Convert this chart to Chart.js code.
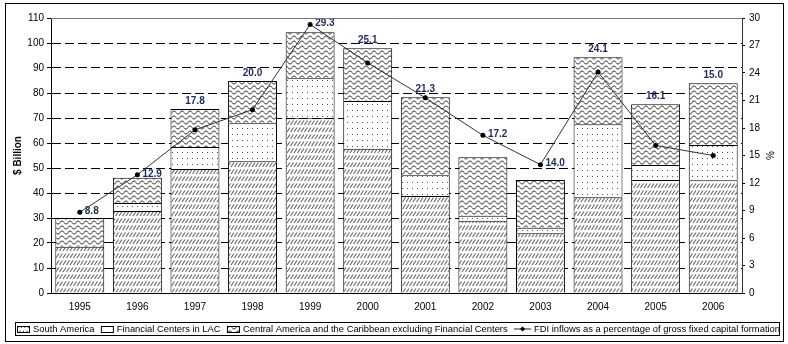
<!DOCTYPE html>
<html>
<head>
<meta charset="utf-8">
<script src="https://cdn.jsdelivr.net/npm/chart.js@4.4.1/dist/chart.umd.min.js"></script>
<style>
  body { margin: 0; background: #fff; }
  #wrap { width: 788px; height: 344px; }
</style>
</head>
<body>
<div id="wrap"><canvas id="fdiChart" width="788" height="344"></canvas></div>
<script>
// data
var years = ['1995', '1996', '1997', '1998', '1999', '2000', '2001', '2002', '2003', '2004', '2005', '2006'];
var southAmerica     = [18.5, 32.8, 49.6, 52.7, 69.9, 57.7, 38.8, 28.9, 23.9, 38.3, 45.2, 45.1];
var financialCenters = [0.0, 3.2, 8.8, 15.2, 16.0, 19.1, 8.3, 2.0, 2.2, 29.2, 6.0, 14.1];
var centralAmerica   = [11.5, 10.1, 15.2, 16.9, 18.4, 21.1, 31.2, 23.4, 19.1, 26.8, 24.3, 24.7];
var fdiPercent       = [8.8, 12.9, 17.8, 20.0, 29.3, 25.1, 21.3, 17.2, 14.0, 24.1, 16.1, 15.0];
var seriesNames = [
  'South America',
  'Financial Centers in LAC',
  'Central America and the Caribbean excluding Financial Centers',
  'FDI inflows as a percentage of gross fixed capital formation'
];
var leftTitle = '$ Billion';
var rightTitle = '%';

var FONT = '"Liberation Sans", Arial, sans-serif';

// fill patterns (hatch / dots / waves)
function makePattern(kind) {
  var c = document.createElement('canvas');
  var g = c.getContext('2d');
  if (kind == 'hatch') {
    c.width = 7; c.height = 7;
    g.fillStyle = '#fff'; g.fillRect(0, 0, 7, 7);
    g.strokeStyle = '#666'; g.lineWidth = 1.1;
    [-3.5, 0, 3.5, 7].forEach(function(x) {
      g.beginPath(); g.moveTo(x, 6); g.lineTo(x + 3, 1.5); g.stroke();
    });
  } else if (kind == 'dots') {
    c.width = 5; c.height = 6;
    g.fillStyle = '#fff'; g.fillRect(0, 0, 5, 6);
    g.fillStyle = '#555'; g.fillRect(2, 2, 1, 1);
  } else {
    c.width = 8; c.height = 5;
    g.fillStyle = '#fff'; g.fillRect(0, 0, 8, 5);
    g.strokeStyle = '#666'; g.lineWidth = 1.1;
    g.beginPath();
    for (var x = 0; x <= 8; x += 0.5) {
      var y = 2.5 + 1.5 * Math.sin(x / 8 * Math.PI * 2);
      if (x == 0) g.moveTo(x, y); else g.lineTo(x, y);
    }
    g.stroke();
  }
  return g.createPattern(c, 'repeat');
}
var hatchPat = makePattern('hatch');
var dotPat = makePattern('dots');
var wavePat = makePattern('wave');

var extras = {
  id: 'extras',
  afterDatasetsDraw: function(chart) {
    var ctx = chart.ctx;
    var lineMeta = chart.getDatasetMeta(0);
    var topMeta = chart.getDatasetMeta(3);
    ctx.save();
    ctx.font = 'bold 10px ' + FONT;
    ctx.fillStyle = '#1f2a5c';
    for (var i = 0; i < years.length; i++) {
      var p = lineMeta.data[i];
      var b = topMeta.data[i];
      var txt = fdiPercent[i].toFixed(1);
      if (p.y < b.y - 2) {
        // point sits above the bar: label to its right
        ctx.textAlign = 'left'; ctx.textBaseline = 'middle';
        ctx.fillText(txt, p.x + 5, p.y - 1);
      } else {
        ctx.textAlign = 'center'; ctx.textBaseline = 'bottom';
        ctx.fillText(txt, b.x, b.y - 3);
      }
    }
    ctx.restore();
  },
  afterDraw: function(chart) {
    var ctx = chart.ctx;
    var area = chart.chartArea;
    ctx.save();
    // top edge of plot
    ctx.strokeStyle = '#777'; ctx.lineWidth = 1;
    ctx.beginPath(); ctx.moveTo(area.left, area.top + 0.5); ctx.lineTo(area.right, area.top + 0.5); ctx.stroke();

    // outer frame
    ctx.strokeStyle = '#000';
    ctx.strokeRect(5.5, 3.5, 778, 338);

    // axis titles
    ctx.fillStyle = '#000';
    ctx.textAlign = 'center'; ctx.textBaseline = 'middle';
    ctx.save();
    ctx.translate(18, (area.top + area.bottom) / 2);
    ctx.rotate(-Math.PI / 2);
    ctx.font = 'bold 10px ' + FONT;
    ctx.fillText(leftTitle, 0, 0);
    ctx.restore();
    ctx.save();
    ctx.translate(771, (area.top + area.bottom) / 2);
    ctx.rotate(-Math.PI / 2);
    ctx.font = '10px ' + FONT;
    ctx.fillText(rightTitle, 0, 0);
    ctx.restore();

    // legend box
    var boxL = 15, boxR = 779, boxT = 322, boxB = 335;
    ctx.strokeRect(boxL + 0.5, boxT + 0.5, boxR - boxL, boxB - boxT);
    var fills = [hatchPat, dotPat, wavePat, null];
    var sw = 13, g1 = 3;
    var fs = 12, total, spacing;
    do {
      ctx.font = fs.toFixed(1) + 'px ' + FONT;
      total = 0;
      seriesNames.forEach(function(n) { total += sw + g1 + ctx.measureText(n).width; });
      spacing = (boxR - boxL - 5 - total) / (seriesNames.length - 1);
      fs -= 0.1;
    } while (spacing < 4);
    var x = boxL + 2;
    var cy = (boxT + boxB) / 2 + 0.5;
    ctx.textAlign = 'left'; ctx.textBaseline = 'middle';
    for (var i = 0; i < seriesNames.length; i++) {
      if (fills[i]) {
        ctx.fillStyle = fills[i];
        ctx.fillRect(x, cy - 3, sw, 6);
        ctx.strokeStyle = '#000';
        ctx.strokeRect(x + 0.5, cy - 3 + 0.5, sw - 1, 6);
      } else {
        ctx.strokeStyle = '#222';
        ctx.beginPath(); ctx.moveTo(x, cy); ctx.lineTo(x + sw + 4, cy); ctx.stroke();
        ctx.fillStyle = '#000';
        var mx = x + (sw + 4) / 2;
        ctx.beginPath(); ctx.moveTo(mx, cy - 2.5); ctx.lineTo(mx + 2.5, cy);
        ctx.lineTo(mx, cy + 2.5); ctx.lineTo(mx - 2.5, cy); ctx.closePath(); ctx.fill();
        x += 4;
      }
      x += sw + g1;
      ctx.fillStyle = '#000';
      ctx.fillText(seriesNames[i], x, cy);
      x += ctx.measureText(seriesNames[i]).width + spacing;
    }
    ctx.restore();
  }
};

var ctx = document.getElementById('fdiChart');
var myChart = new Chart(ctx, {
  type: 'bar',
  data: {
    labels: years,
    datasets: [
      {
        type: 'line',
        label: seriesNames[3],
        data: fdiPercent,
        yAxisID: 'y1',
        borderColor: '#333',
        borderWidth: 1,
        pointRadius: 2.5,
        pointBackgroundColor: '#000',
        pointBorderColor: '#000',
        pointBorderWidth: 0,
        tension: 0,
        order: 0
      },
      { label: seriesNames[0], data: southAmerica, backgroundColor: hatchPat, borderColor: '#000', borderWidth: 1, order: 1 },
      { label: seriesNames[1], data: financialCenters, backgroundColor: dotPat, borderColor: '#000', borderWidth: 1, order: 1 },
      { label: seriesNames[2], data: centralAmerica, backgroundColor: wavePat, borderColor: '#000', borderWidth: 1, order: 1 }
    ]
  },
  options: {
    responsive: false,
    animation: false,
    devicePixelRatio: 1,
    categoryPercentage: 1,
    barPercentage: 0.85,
    layout: { padding: { left: 0, right: 0, top: 18, bottom: 31 } },
    plugins: {
      legend: { display: false },
      tooltip: { enabled: false }
    },
    scales: {
      x: {
        stacked: true,
        grid: { drawOnChartArea: false, drawTicks: false },
        border: { color: '#000', width: 1 },
        ticks: { color: '#000', font: { size: 10, family: FONT }, padding: 8, maxRotation: 0 },
        afterFit: function(s) { s.height = 20; }
      },
      y: {
        stacked: true,
        position: 'left',
        min: 0,
        max: 110,
        ticks: { stepSize: 10, color: '#000', font: { size: 10, family: FONT }, padding: 3 },
        grid: {
          color: function(c) { return (c.tick && (c.tick.value == 0 || c.tick.value == 110)) ? 'rgba(0,0,0,0)' : '#000'; },
          lineWidth: 1,
          tickLength: 4,
          tickColor: '#000',
          tickBorderDash: []
        },
        border: { color: '#000', width: 1, dash: [9, 4] },
        afterFit: function(s) { s.width = 51; }
      },
      y1: {
        position: 'right',
        min: 0,
        max: 30,
        ticks: { stepSize: 3, color: '#000', font: { size: 10, family: FONT }, padding: 4 },
        grid: { drawOnChartArea: false, tickLength: 3, tickColor: '#000' },
        border: { color: '#333', width: 1 },
        afterFit: function(s) { s.width = 46; }
      }
    }
  },
  plugins: [extras]
});
</script>
</body>
</html>
